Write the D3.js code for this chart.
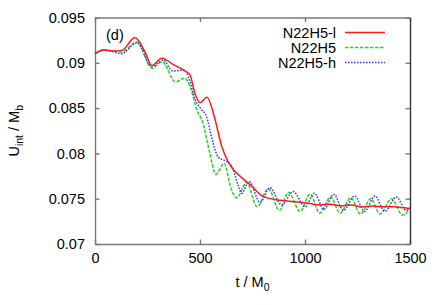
<!DOCTYPE html>
<html lang="en">
<head>
<meta charset="utf-8">
<title>U_int vs t</title>
<script src="https://d3js.org/d3.v7.min.js"></script>
<style>
  body { margin: 0; background: #fff; }
  svg text { font-family: "Liberation Sans", Arial, sans-serif; fill: #000; }
  .axis path, .axis line { stroke: #7a7a7a; stroke-width: 1.4; }
  .axis text { font-size: 14.5px; }
</style>
</head>
<body>
<script>
// tick values
var tTicks = [0, 500, 1000, 1500];
var uTicks = [0.07, 0.075, 0.08, 0.085, 0.09, 0.095];
var uLabels = ["0.07", "0.075", "0.08", "0.085", "0.09", "0.095"];

// series names
var names = ["N22H5-l", "N22H5", "N22H5-h"];

// N22H5-l : [t, U]
var lowRes = [
  [0, 0.0910], [40, 0.0914], [90, 0.0913], [130, 0.0914], [190, 0.0928], [238, 0.0912],
  [270, 0.0897], [318, 0.0905], [373, 0.0898], [421, 0.0892], [452, 0.0887], [476, 0.0866],
  [500, 0.0856], [533, 0.0862], [571, 0.0838], [603, 0.0808], [638, 0.0789], [700, 0.0773],
  [750, 0.0763], [790, 0.0754], [857, 0.0749], [937, 0.0747], [1016, 0.0745], [1070, 0.0743],
  [1120, 0.0744], [1170, 0.0742], [1220, 0.0743], [1270, 0.0741], [1320, 0.0742],
  [1370, 0.0741], [1420, 0.0741], [1470, 0.0740], [1500, 0.0739]
];

// N22H5 : [t, U]
var midRes = [
  [0, 0.0910], [40, 0.0914], [90, 0.0913], [125, 0.0912], [200, 0.0923], [272, 0.0894],
  [320, 0.0901], [383, 0.0879], [428, 0.0883], [455, 0.0872], [484, 0.0849], [516, 0.0832],
  [545, 0.0802], [576, 0.0777], [615, 0.0789], [648, 0.0761], [675, 0.0751], [722, 0.0768],
  [772, 0.0741], [825, 0.0761], [878, 0.0737], [921, 0.0757], [977, 0.0736], [1024, 0.0755],
  [1071, 0.0734], [1122, 0.0752], [1167, 0.0734], [1218, 0.0751], [1265, 0.0733],
  [1313, 0.0750], [1358, 0.0733], [1411, 0.0750], [1465, 0.0732], [1500, 0.0739]
];

// N22H5-h : [t, U]
var highRes = [
  [0, 0.0910], [40, 0.0914], [90, 0.0912], [125, 0.0910], [200, 0.0922], [270, 0.0896],
  [325, 0.0903], [370, 0.0891], [425, 0.0892], [450, 0.0881], [476, 0.0860], [505, 0.0849],
  [532, 0.0840], [556, 0.0817], [587, 0.0796], [627, 0.0791], [651, 0.0786], [683, 0.0764],
  [698, 0.0756], [733, 0.0769], [786, 0.0746], [833, 0.0762], [889, 0.0743], [944, 0.0758],
  [1000, 0.0741], [1045, 0.0756], [1090, 0.0738], [1137, 0.0755], [1183, 0.0737],
  [1236, 0.0753], [1284, 0.0736], [1333, 0.0753], [1380, 0.0736], [1435, 0.0752],
  [1482, 0.0737], [1500, 0.0740]
];

var W = 436, H = 305;
var pl = 95, pr = 410, pt = 17.5, pb = 244;

var x = d3.scaleLinear().domain([0, 1500]).range([pl, pr]);
var y = d3.scaleLinear().domain([0.07, 0.095]).range([pb, pt]);

var svg = d3.select("body").append("svg")
    .attr("width", W)
    .attr("height", H);

// axes (ticks point inward, mirrored on top and right)
svg.append("g")
    .attr("class", "axis")
    .attr("transform", "translate(0," + pb + ")")
    .call(d3.axisBottom(x).tickValues(tTicks).tickFormat(d3.format("d"))
        .tickSizeInner(-4.5).tickSizeOuter(0).tickPadding(9));

svg.append("g")
    .attr("class", "axis")
    .attr("transform", "translate(0," + pt + ")")
    .call(d3.axisTop(x).tickValues(tTicks).tickFormat("")
        .tickSizeInner(-4.5).tickSizeOuter(0));

svg.append("g")
    .attr("class", "axis")
    .attr("transform", "translate(" + pl + ",0)")
    .call(d3.axisLeft(y).tickValues(uTicks)
        .tickFormat(function(d, i) { return uLabels[i]; })
        .tickSizeInner(-4.5).tickSizeOuter(0).tickPadding(10));

svg.append("g")
    .attr("class", "axis right")
    .attr("transform", "translate(" + pr + ",0)")
    .call(d3.axisRight(y).tickValues(uTicks).tickFormat("")
        .tickSizeInner(-4.5).tickSizeOuter(0));

svg.select(".right path").style("stroke", "#333");

var line = d3.line()
    .x(function(d) { return x(d[0]); })
    .y(function(d) { return y(d[1]); })
    .curve(d3.curveMonotoneX);

var styles = [
  { color: "#ff1a1a", dash: null, width: 1.5 },
  { color: "#1fd81f", dash: "3.5,1.5", width: 1.5 },
  { color: "#3a3aff", dash: "1.6,1.4", width: 1.5 }
];

var all = [lowRes, midRes, highRes];
// draw order: green, blue, red on top
[1, 2, 0].forEach(function(i) {
  svg.append("path")
      .datum(all[i])
      .attr("fill", "none")
      .attr("stroke", styles[i].color)
      .attr("stroke-width", styles[i].width)
      .attr("stroke-dasharray", styles[i].dash)
      .attr("d", line);
});

// legend
var legend = svg.append("g");
names.forEach(function(n, i) {
  var ly = 32.5 + i * 15;
  legend.append("text")
      .attr("x", 336)
      .attr("y", ly)
      .attr("dy", "0.36em")
      .attr("text-anchor", "end")
      .style("font-size", "14.5px")
      .text(n);
  legend.append("line")
      .attr("x1", 345).attr("x2", 385)
      .attr("y1", ly).attr("y2", ly)
      .attr("stroke", styles[i].color)
      .attr("stroke-width", styles[i].width)
      .attr("stroke-dasharray", styles[i].dash);
});

// panel tag
svg.append("text")
    .attr("x", 106)
    .attr("y", 40)
    .style("font-size", "14.5px")
    .text("(d)");

// axis titles
var xt = svg.append("text")
    .attr("x", (pl + pr) / 2)
    .attr("y", 286.5)
    .attr("text-anchor", "middle")
    .style("font-size", "14.5px");
xt.append("tspan").text("t / M");
xt.append("tspan").attr("dy", 4).style("font-size", "10.5px").text("0");

var yt = svg.append("text")
    .attr("transform", "translate(19," + ((pt + pb) / 2) + ") rotate(-90)")
    .attr("text-anchor", "middle")
    .style("font-size", "14.5px");
yt.append("tspan").text("U");
yt.append("tspan").attr("dy", 4).style("font-size", "10.5px").text("int");
yt.append("tspan").attr("dy", -4).text(" / M");
yt.append("tspan").attr("dy", 4).style("font-size", "10.5px").text("b");
</script>
</body>
</html>
